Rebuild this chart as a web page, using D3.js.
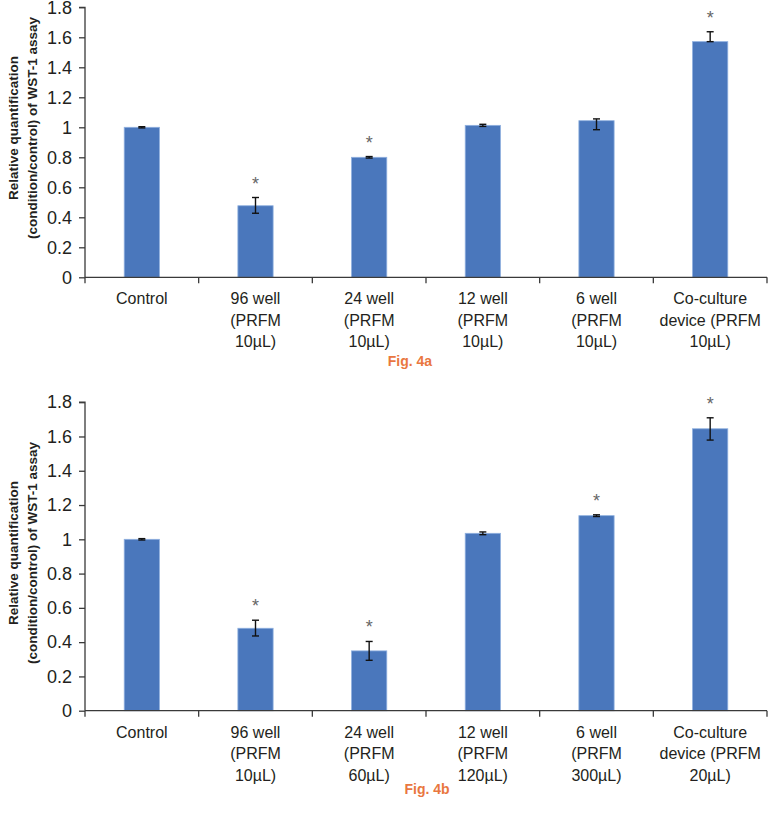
<!DOCTYPE html>
<html>
<head>
<meta charset="utf-8">
<script src="https://cdn.jsdelivr.net/npm/d3@7"></script>
<style>
  body { margin: 0; background: #fff; }
  svg text { font-family: "Liberation Sans", Arial, sans-serif; }
</style>
</head>
<body>
<svg id="chart" width="768" height="814"></svg>
<script>
// category labels, one array of lines per bar
var categoriesA = [
    ["Control"],
    ["96 well", "(PRFM", "10µL)"],
    ["24 well", "(PRFM", "10µL)"],
    ["12 well", "(PRFM", "10µL)"],
    ["6 well", "(PRFM", "10µL)"],
    ["Co-culture", "device (PRFM", "10µL)"]
];
var categoriesB = [
    ["Control"],
    ["96 well", "(PRFM", "10µL)"],
    ["24 well", "(PRFM", "60µL)"],
    ["12 well", "(PRFM", "120µL)"],
    ["6 well", "(PRFM", "300µL)"],
    ["Co-culture", "device (PRFM", "20µL)"]
];

// relative quantification values and error bars
var valuesA = [1.0, 0.477, 0.80, 1.013, 1.044, 1.571];
var errUpA = [0.004, 0.055, 0.005, 0.007, 0.012, 0.066];
var errDownA = [0.004, 0.05, 0.005, 0.007, 0.06, 0.0];
var starsA = [false, true, true, false, false, true];

var valuesB = [1.0, 0.481, 0.349, 1.035, 1.138, 1.645];
var errUpB = [0.004, 0.047, 0.055, 0.008, 0.005, 0.064];
var errDownB = [0.004, 0.045, 0.055, 0.008, 0.005, 0.066];
var starsB = [false, true, true, false, true, true];

var yTicks = [0, 0.2, 0.4, 0.6, 0.8, 1, 1.2, 1.4, 1.6, 1.8];
var yLabel = ["Relative quantification", "(condition/control) of WST-1 assay"];

var barColor = "#4a77bc",
    axisColor = "#3a3a3a",
    textColor = "#231f20",
    captionColor = "#e9773f";

var svg = d3.select("#chart");

function drawPanel(opts) {
    var g = svg.append("g");

    var x = d3.scaleBand()
        .domain(d3.range(opts.categories.length))
        .range([85, 767]);

    var y = d3.scaleLinear()
        .domain([0, 1.8])
        .range([opts.bottom, opts.top]);

    var barWidth = x.bandwidth() * 0.31;

    // bars
    g.selectAll("rect.bar")
        .data(opts.values)
        .enter().append("rect")
        .attr("class", "bar")
        .attr("x", function (d, i) { return x(i) + x.bandwidth() / 2 - barWidth / 2; })
        .attr("y", function (d) { return y(d); })
        .attr("width", barWidth)
        .attr("height", function (d) { return y(0) - y(d); })
        .style("fill", barColor)
        .style("stroke", "#8fb0df")
        .style("stroke-width", "0.8px");

    // error bars
    opts.values.forEach(function (v, i) {
        var cx = x(i) + x.bandwidth() / 2,
            yHi = y(v + opts.errUp[i]),
            yLo = y(v - opts.errDown[i]);
        g.append("line")
            .attr("x1", cx).attr("x2", cx)
            .attr("y1", yHi).attr("y2", yLo)
            .style("stroke", "#111").style("stroke-width", "1.4px");
        [yHi, yLo].forEach(function (yy) {
            g.append("line")
                .attr("x1", cx - 3.5).attr("x2", cx + 3.5)
                .attr("y1", yy).attr("y2", yy)
                .style("stroke", "#111").style("stroke-width", "1.4px");
        });
        if (opts.stars[i]) {
            g.append("text")
                .attr("x", cx)
                .attr("y", yHi - 8)
                .attr("text-anchor", "middle")
                .style("font-size", "18px")
                .style("fill", "#666")
                .text("*");
        }
    });

    // y axis
    var yAxis = g.append("g")
        .attr("transform", "translate(85,0)")
        .call(d3.axisLeft(y).tickValues(yTicks).tickSize(6).tickPadding(7)
            .tickFormat(function (d) { return d3.format("")(+d.toFixed(1)); }));
    yAxis.select(".domain").style("stroke", axisColor).style("stroke-width", "1.3px")
        .attr("d", "M-6," + y(1.8) + "H0V" + y(0));
    yAxis.selectAll(".tick line").style("stroke", axisColor).style("stroke-width", "1.3px");
    yAxis.selectAll(".tick text")
        .style("font-size", "18px")
        .style("fill", textColor)
        .style("font-family", "'Liberation Sans', Arial, sans-serif");

    // x axis: line with ticks at the category boundaries
    g.append("line")
        .attr("x1", 85).attr("x2", 767)
        .attr("y1", y(0)).attr("y2", y(0))
        .style("stroke", axisColor).style("stroke-width", "1.3px");
    d3.range(opts.categories.length + 1).forEach(function (i) {
        var xx = i < opts.categories.length ? x(i) : x.range()[1];
        g.append("line")
            .attr("x1", xx).attr("x2", xx)
            .attr("y1", y(0)).attr("y2", y(0) + 6)
            .style("stroke", axisColor).style("stroke-width", "1.3px");
    });

    // category labels
    opts.categories.forEach(function (lines, i) {
        var t = g.append("text")
            .attr("text-anchor", "middle")
            .style("font-size", "16px")
            .style("fill", textColor);
        lines.forEach(function (s, j) {
            t.append("tspan")
                .attr("x", x(i) + x.bandwidth() / 2)
                .attr("y", y(0) + 27 + j * 21.5)
                .text(s);
        });
    });

    // y axis title, two lines, rotated
    var yt = g.append("text")
        .attr("transform", "translate(0," + opts.labelY + ") rotate(-90)")
        .attr("text-anchor", "middle")
        .style("font-size", "13.5px")
        .style("font-weight", "bold")
        .style("fill", textColor);
    yLabel.forEach(function (s, j) {
        yt.append("tspan")
            .attr("x", 0)
            .attr("y", 18 + j * 18.5)
            .text(s);
    });

    // caption
    g.append("text")
        .attr("x", opts.captionX)
        .attr("y", opts.captionY)
        .attr("text-anchor", "middle")
        .style("font-size", "14px")
        .style("font-weight", "bold")
        .style("fill", captionColor)
        .text(opts.caption);
}

drawPanel({
    categories: categoriesA, values: valuesA, errUp: errUpA, errDown: errDownA, stars: starsA,
    top: 7.3, bottom: 277.3, labelY: 128, caption: "Fig. 4a", captionX: 410, captionY: 366
});

drawPanel({
    categories: categoriesB, values: valuesB, errUp: errUpB, errDown: errDownB, stars: starsB,
    top: 402.2, bottom: 710.7, labelY: 553, caption: "Fig. 4b", captionX: 427, captionY: 794
});
</script>
</body>
</html>
